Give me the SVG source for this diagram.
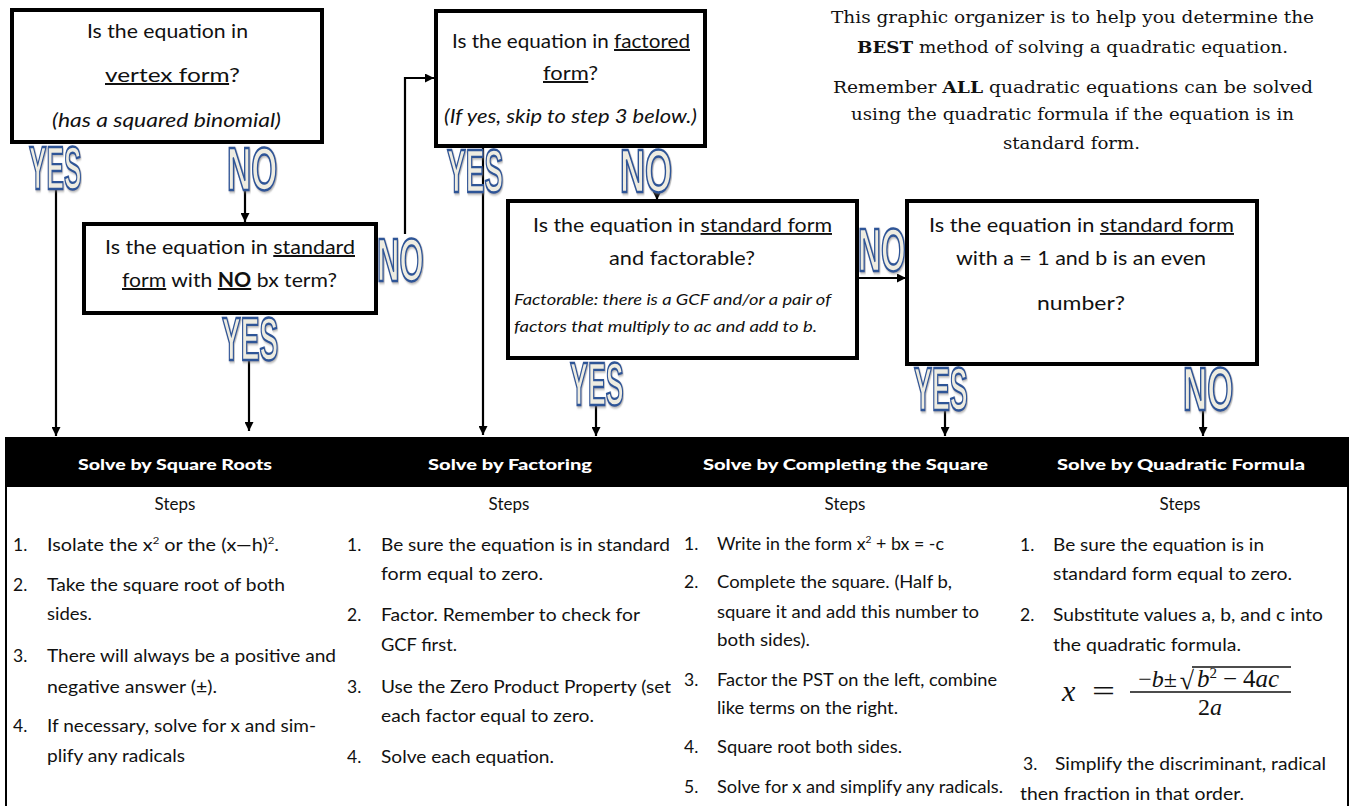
<svg xmlns="http://www.w3.org/2000/svg" width="1351" height="806" viewBox="0 0 1351 806">
<style>
.box{fill:#fff;stroke:#000;stroke-width:4}
.t{font-family:Lato,"Open Sans",sans-serif;font-size:20px;fill:#111}
.t2{font-family:Lato,"Open Sans",sans-serif;font-size:19px;fill:#111}
.it{font-style:italic}
.u{text-decoration:underline}
.bo{font-weight:bold}
.yn{font-family:"Liberation Sans",Arial,sans-serif;font-weight:bold;font-size:61px;fill:#eeece1;stroke:#2f5597;stroke-width:2.4;filter:url(#sh)}
.hd{font-family:Lato,"Open Sans",sans-serif;font-weight:900;font-size:15px;fill:#fff}
.b{font-family:Lato,"Open Sans",sans-serif;font-size:17.5px;fill:#111}
.st{font-family:Lato,"Open Sans",sans-serif;font-size:17px;fill:#111;text-anchor:middle}
.s{font-family:"DejaVu Serif","Liberation Serif",serif;font-size:16.5px;fill:#111}
.conn{stroke:#000;stroke-width:2.2;fill:none}
.m{font-family:"Liberation Serif","DejaVu Serif",serif;fill:#111}
</style>
<defs>
<marker id="ah" markerUnits="userSpaceOnUse" markerWidth="9" markerHeight="9" refX="9" refY="4.5" orient="auto">
<path d="M0,0 L9,4.5 L0,9 z" fill="#000"/>
</marker>
<filter id="sh" x="-20%" y="-20%" width="150%" height="150%">
<feDropShadow dx="1.5" dy="1.5" stdDeviation="1" flood-color="#777" flood-opacity="0.6"/>
</filter>
</defs>
<rect width="1351" height="806" fill="#fff"/>

<g id="connectors">
<line class="conn" x1="56" y1="188" x2="56" y2="436" marker-end="url(#ah)"/>
<line class="conn" x1="245" y1="190" x2="245" y2="222" marker-end="url(#ah)"/>
<line class="conn" x1="249" y1="358" x2="249" y2="431" marker-end="url(#ah)"/>
<polyline class="conn" points="405,234 405,78 434,78" marker-end="url(#ah)"/>
<line class="conn" x1="483" y1="148" x2="483" y2="435" marker-end="url(#ah)"/>
<line class="conn" x1="657" y1="188" x2="657" y2="200" marker-end="url(#ah)"/>
<line class="conn" x1="859" y1="278" x2="906" y2="278" marker-end="url(#ah)"/>
<line class="conn" x1="596" y1="404" x2="596" y2="436" marker-end="url(#ah)"/>
<line class="conn" x1="945" y1="408" x2="945" y2="436" marker-end="url(#ah)"/>
<line class="conn" x1="1203" y1="408" x2="1203" y2="436" marker-end="url(#ah)"/>
</g>

<g id="labels">
<text class="yn" transform="translate(29,189) scale(0.43,1)">YES</text>
<text class="yn" transform="translate(227,190) scale(0.55,1)">NO</text>
<text class="yn" transform="translate(377,281) scale(0.51,1)">NO</text>
<text class="yn" transform="translate(222,360) scale(0.46,1)">YES</text>
<text class="yn" transform="translate(447,192) scale(0.46,1)">YES</text>
<text class="yn" transform="translate(620,192) scale(0.57,1)">NO</text>
<text class="yn" transform="translate(858,271) scale(0.52,1)">NO</text>
<text class="yn" transform="translate(570,405) scale(0.44,1)">YES</text>
<text class="yn" transform="translate(914,410) scale(0.44,1)">YES</text>
<text class="yn" transform="translate(1183,410) scale(0.55,1)">NO</text>
</g>

<g id="vertex-form">
<rect class="box" x="12" y="10" width="310" height="132"/>
<text class="t" x="87" y="38" textLength="161" lengthAdjust="spacingAndGlyphs">Is the equation in</text>
<text class="t" x="105" y="82" textLength="135" lengthAdjust="spacingAndGlyphs"><tspan class="u">vertex form</tspan>?</text>
<text class="t it" x="52" y="127" textLength="229" lengthAdjust="spacingAndGlyphs">(has a squared binomial)</text>
</g>

<g id="factored-form">
<rect class="box" x="436" y="11" width="269" height="135"/>
<text class="t" x="452" y="48" textLength="238" lengthAdjust="spacingAndGlyphs">Is the equation in <tspan class="u">factored</tspan></text>
<text class="t" x="543" y="80" textLength="55" lengthAdjust="spacingAndGlyphs"><tspan class="u">form</tspan>?</text>
<text class="t it" x="444" y="123" textLength="253" lengthAdjust="spacingAndGlyphs">(If yes, skip to step 3 below.)</text>
</g>

<g id="no-bx">
<rect class="box" x="84" y="224" width="292" height="89"/>
<text class="t" x="105" y="254" textLength="250" lengthAdjust="spacingAndGlyphs">Is the equation in <tspan class="u">standard</tspan></text>
<text class="t" x="122" y="287" textLength="215" lengthAdjust="spacingAndGlyphs"><tspan class="u">form</tspan> with <tspan class="u bo">NO</tspan> bx term?</text>
</g>

<g id="factorable">
<rect class="box" x="508" y="201" width="349" height="157"/>
<text class="t2" x="533" y="232" textLength="299" lengthAdjust="spacingAndGlyphs">Is the equation in <tspan class="u">standard form</tspan></text>
<text class="t2" x="609" y="265" textLength="146" lengthAdjust="spacingAndGlyphs">and factorable?</text>
<text class="t2 it" x="514" y="305" style="font-size:15px" textLength="317" lengthAdjust="spacingAndGlyphs">Factorable: there is a GCF and/or a pair of</text>
<text class="t2 it" x="514" y="332" style="font-size:15px" textLength="303" lengthAdjust="spacingAndGlyphs">factors that multiply to ac and add to b.</text>
</g>

<g id="completing">
<rect class="box" x="907" y="201" width="350" height="163"/>
<text class="t2" x="929" y="232" textLength="305" lengthAdjust="spacingAndGlyphs">Is the equation in <tspan class="u">standard form</tspan></text>
<text class="t2" x="956" y="265" textLength="250" lengthAdjust="spacingAndGlyphs">with a = 1 and b is an even</text>
<text class="t2" x="1037" y="310" textLength="88" lengthAdjust="spacingAndGlyphs">number?</text>
</g>

<g id="intro">
<text class="s" x="831" y="23" textLength="483" lengthAdjust="spacingAndGlyphs">This graphic organizer is to help you determine the</text>
<text class="s" x="857" y="53" textLength="431" lengthAdjust="spacingAndGlyphs"><tspan style="font-weight:bold">BEST</tspan> method of solving a quadratic equation.</text>
<text class="s" x="833" y="93" textLength="480" lengthAdjust="spacingAndGlyphs">Remember <tspan style="font-weight:bold">ALL</tspan> quadratic equations can be solved</text>
<text class="s" x="851" y="120" textLength="443" lengthAdjust="spacingAndGlyphs">using the quadratic formula if the equation is in</text>
<text class="s" x="1003" y="149" textLength="137" lengthAdjust="spacingAndGlyphs">standard form.</text>
</g>

<g id="methods-table">
<rect x="5" y="437" width="1344" height="50" fill="#000"/>
<line x1="6" y1="487" x2="6" y2="806" stroke="#000" stroke-width="2"/>
<line x1="1348" y1="487" x2="1348" y2="806" stroke="#000" stroke-width="2"/>
<text class="hd" x="78" y="470" textLength="194" lengthAdjust="spacingAndGlyphs">Solve by Square Roots</text>
<text class="hd" x="428" y="470" textLength="164" lengthAdjust="spacingAndGlyphs">Solve by Factoring</text>
<text class="hd" x="703" y="470" textLength="285" lengthAdjust="spacingAndGlyphs">Solve by Completing the Square</text>
<text class="hd" x="1057" y="470" textLength="248" lengthAdjust="spacingAndGlyphs">Solve by Quadratic Formula</text>
<text class="st" x="175" y="510">Steps</text>
<text class="st" x="509" y="510">Steps</text>
<text class="st" x="845" y="510">Steps</text>
<text class="st" x="1180" y="510">Steps</text>
</g>

<g id="square-roots-steps">
<text class="b" x="13" y="551">1.</text>
<text class="b" x="47" y="551" textLength="232" lengthAdjust="spacingAndGlyphs">Isolate the x<tspan dy="-7" font-size="10">2</tspan><tspan dy="7"> or the (x—h)</tspan><tspan dy="-7" font-size="10">2</tspan><tspan dy="7">.</tspan></text>
<text class="b" x="13" y="591">2.</text>
<text class="b" x="47" y="591" textLength="238" lengthAdjust="spacingAndGlyphs">Take the square root of both</text>
<text class="b" x="47" y="620" textLength="45" lengthAdjust="spacingAndGlyphs">sides.</text>
<text class="b" x="13" y="662">3.</text>
<text class="b" x="47" y="662" textLength="289" lengthAdjust="spacingAndGlyphs">There will always be a positive and</text>
<text class="b" x="47" y="693" textLength="170" lengthAdjust="spacingAndGlyphs">negative answer (±).</text>
<text class="b" x="13" y="732">4.</text>
<text class="b" x="47" y="732" textLength="269" lengthAdjust="spacingAndGlyphs">If necessary, solve for x and sim-</text>
<text class="b" x="47" y="762" textLength="138" lengthAdjust="spacingAndGlyphs">plify any radicals</text>
</g>

<g id="factoring-steps">
<text class="b" x="347" y="551">1.</text>
<text class="b" x="381" y="551" textLength="289" lengthAdjust="spacingAndGlyphs">Be sure the equation is in standard</text>
<text class="b" x="381" y="580" textLength="162" lengthAdjust="spacingAndGlyphs">form equal to zero.</text>
<text class="b" x="347" y="621">2.</text>
<text class="b" x="381" y="621" textLength="259" lengthAdjust="spacingAndGlyphs">Factor. Remember to check for</text>
<text class="b" x="381" y="651" textLength="76" lengthAdjust="spacingAndGlyphs">GCF first.</text>
<text class="b" x="347" y="693">3.</text>
<text class="b" x="381" y="693" textLength="290" lengthAdjust="spacingAndGlyphs">Use the Zero Product Property (set</text>
<text class="b" x="381" y="722" textLength="213" lengthAdjust="spacingAndGlyphs">each factor equal to zero.</text>
<text class="b" x="347" y="763">4.</text>
<text class="b" x="381" y="763" textLength="173" lengthAdjust="spacingAndGlyphs">Solve each equation.</text>
</g>

<g id="completing-steps">
<text class="b" x="684" y="550">1.</text>
<text class="b" x="717" y="550" textLength="227" lengthAdjust="spacingAndGlyphs">Write in the form x<tspan dy="-7" font-size="10">2</tspan><tspan dy="7"> + bx = -c</tspan></text>
<text class="b" x="684" y="588">2.</text>
<text class="b" x="717" y="588" textLength="235" lengthAdjust="spacingAndGlyphs">Complete the square. (Half b,</text>
<text class="b" x="717" y="618" textLength="262" lengthAdjust="spacingAndGlyphs">square it and add this number to</text>
<text class="b" x="717" y="646" textLength="93" lengthAdjust="spacingAndGlyphs">both sides).</text>
<text class="b" x="684" y="686">3.</text>
<text class="b" x="717" y="686" textLength="280" lengthAdjust="spacingAndGlyphs">Factor the PST on the left, combine</text>
<text class="b" x="717" y="714" textLength="181" lengthAdjust="spacingAndGlyphs">like terms on the right.</text>
<text class="b" x="684" y="753">4.</text>
<text class="b" x="717" y="753" textLength="185" lengthAdjust="spacingAndGlyphs">Square root both sides.</text>
<text class="b" x="684" y="793">5.</text>
<text class="b" x="717" y="793" textLength="286" lengthAdjust="spacingAndGlyphs">Solve for x and simplify any radicals.</text>
</g>

<g id="formula-steps">
<text class="b" x="1020" y="551">1.</text>
<text class="b" x="1053" y="551" textLength="211" lengthAdjust="spacingAndGlyphs">Be sure the equation is in</text>
<text class="b" x="1053" y="580" textLength="239" lengthAdjust="spacingAndGlyphs">standard form equal to zero.</text>
<text class="b" x="1020" y="621">2.</text>
<text class="b" x="1053" y="621" textLength="270" lengthAdjust="spacingAndGlyphs">Substitute values a, b, and c into</text>
<text class="b" x="1053" y="651" textLength="188" lengthAdjust="spacingAndGlyphs">the quadratic formula.</text>
<text class="m" x="1062" y="701" font-size="30" font-style="italic">x</text>
<text class="m" x="1092" y="701" font-size="30" textLength="23" lengthAdjust="spacingAndGlyphs">=</text>
<text class="m" x="1177" y="687" font-size="24" text-anchor="end">−<tspan font-style="italic">b</tspan>±</text>
<text class="m" x="1194" y="689" font-size="26" text-anchor="end">√</text>
<line x1="1192" y1="667" x2="1291" y2="667" stroke="#111" stroke-width="1.3"/>
<text class="m" x="1197" y="687" font-size="25"><tspan font-style="italic">b</tspan><tspan dy="-9" font-size="15">2</tspan><tspan dy="9" dx="6">−</tspan><tspan dx="6">4</tspan><tspan font-style="italic">ac</tspan></text>
<line x1="1130" y1="692" x2="1291" y2="692" stroke="#111" stroke-width="1.3"/>
<text class="m" x="1210" y="715" font-size="24" text-anchor="middle">2<tspan font-style="italic">a</tspan></text>
<text class="b" x="1023" y="770">3.</text>
<text class="b" x="1055" y="770" textLength="271" lengthAdjust="spacingAndGlyphs">Simplify the discriminant, radical</text>
<text class="b" x="1020" y="800" textLength="224" lengthAdjust="spacingAndGlyphs">then fraction in that order.</text>
</g>
</svg>
